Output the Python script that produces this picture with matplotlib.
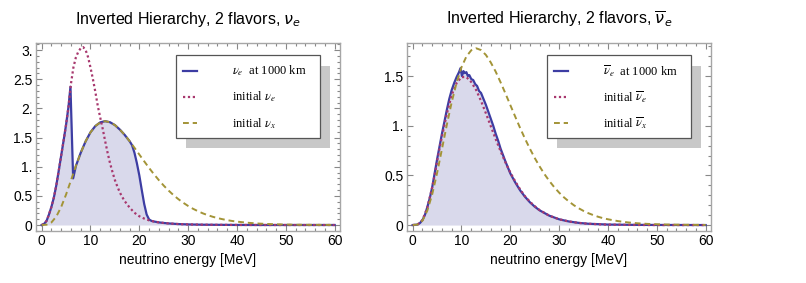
import matplotlib
matplotlib.use("Agg")
import matplotlib.pyplot as plt
from matplotlib.patches import Rectangle
from matplotlib.lines import Line2D
from matplotlib.ticker import MultipleLocator, FuncFormatter

plt.rcParams['font.family'] = ['Liberation Sans', 'DejaVu Sans']

# --- DATA ---
# initial nu_x / anti-nu_x spectrum (same in both panels)
energy_x = [0, 1, 2, 3, 4, 5, 6, 7, 8, 9, 10, 11, 12, 13, 14, 15, 16, 17, 18, 19,
            20, 21, 22, 23, 24, 25, 26, 27, 28, 29, 30, 31, 32, 33, 34, 35, 36, 37, 38, 39,
            40, 42, 44, 46, 48, 50, 52, 55, 60]
nux_initial = [0, 0.005, 0.044, 0.145, 0.309, 0.523, 0.765, 1.010, 1.238, 1.434,
               1.589, 1.697, 1.760, 1.780, 1.762, 1.713, 1.637, 1.545, 1.438, 1.325,
               1.208, 1.092, 0.978, 0.870, 0.769, 0.675, 0.590, 0.512, 0.443, 0.381,
               0.326, 0.278, 0.237, 0.200, 0.169, 0.142, 0.119, 0.100, 0.083, 0.069,
               0.058, 0.040, 0.027, 0.018, 0.012, 0.008, 0.005, 0.003, 0.001]

# left panel: initial nu_e
energy_nue = [0, 0.5, 1, 1.5, 2, 2.5, 3, 3.5, 4, 4.5, 5, 5.5, 6, 6.5, 7, 7.5, 8, 8.5, 9, 9.5,
              10, 10.5, 11, 11.5, 12, 12.5, 13, 13.5, 14, 14.5, 15, 15.5, 16, 16.5, 17,
              18, 19, 20, 21, 22, 23, 24, 25, 26, 28, 30, 33, 36, 40, 45, 50, 55, 60]
nue_initial = [0, 0.02, 0.07, 0.18, 0.31, 0.47, 0.68, 0.93, 1.19, 1.45, 1.72, 2.03, 2.42,
               2.70, 2.87, 2.97, 3.03, 3.05, 3.00, 2.88, 2.70, 2.50, 2.28, 2.04, 1.84,
               1.65, 1.44, 1.24, 1.06, 0.91, 0.77, 0.66, 0.56, 0.48, 0.41, 0.30, 0.21,
               0.15, 0.11, 0.08, 0.06, 0.045, 0.035, 0.027, 0.016, 0.010, 0.005, 0.003,
               0.001, 0, 0, 0, 0]

# left panel: nu_e at 1000 km
energy_nue_final = [0, 0.5, 1, 1.5, 2, 2.5, 3, 3.5, 4, 4.5, 5, 5.5, 5.9, 6.45, 6.9, 7, 8, 9,
                    10, 11, 12, 13, 14, 15, 16, 17, 18, 18.5, 19, 19.5, 20, 20.5, 21,
                    21.5, 22, 22.5, 23, 24, 25, 26, 28, 30, 33, 36, 40, 45, 50, 55, 60]
nue_final = [0, 0.02, 0.07, 0.18, 0.31, 0.47, 0.68, 0.93, 1.19, 1.45, 1.72, 2.03, 2.37,
             0.80, 0.97, 1.01, 1.238, 1.434, 1.589, 1.697, 1.760, 1.780, 1.762, 1.713,
             1.637, 1.545, 1.438, 1.37, 1.24, 1.06, 0.85, 0.60, 0.36, 0.18, 0.095, 0.07,
             0.06, 0.045, 0.035, 0.027, 0.016, 0.010, 0.005, 0.003, 0.001, 0, 0, 0, 0]

# right panel: initial anti-nu_e
energy_anue = [0, 1, 2, 3, 4, 4.5, 5, 5.5, 6, 7, 8, 9, 10, 11, 12, 13, 14, 15, 16, 17, 18,
               19, 20, 21, 22, 23, 24, 25, 26, 28, 30, 32, 34, 36, 40, 45, 50, 60]
anue_initial = [0, 0.005, 0.05, 0.175, 0.38, 0.50, 0.64, 0.77, 0.89, 1.12, 1.31, 1.43,
                1.49, 1.49, 1.44, 1.36, 1.25, 1.125, 0.995, 0.866, 0.744, 0.631, 0.529,
                0.44, 0.36, 0.29, 0.235, 0.19, 0.15, 0.094, 0.058, 0.036, 0.021, 0.013,
                0.004, 0.001, 0, 0]

# right panel: anti-nu_e at 1000 km
energy_anue_final = [0, 1, 1.5, 2, 2.5, 3, 3.5, 4, 4.5, 5, 5.5, 6, 6.5, 7, 7.5, 8, 8.5, 9,
                     9.5, 9.8, 10.1, 10.4, 10.7, 11.0, 11.3, 11.6, 12.0, 12.4, 12.8, 13.2,
                     13.6, 14.0, 14.5, 15.0, 15.5, 16.0, 16.5, 17.0, 17.5, 18, 19, 20, 21,
                     22, 23, 24, 25, 26, 28, 30, 32, 34, 36, 40, 45, 50, 60]
anue_final = [0, 0.005, 0.02, 0.05, 0.10, 0.18, 0.27, 0.38, 0.52, 0.66, 0.79, 0.92, 1.04,
              1.16, 1.27, 1.36, 1.43, 1.49, 1.54, 1.58, 1.50, 1.55, 1.53, 1.54, 1.50, 1.51,
              1.47, 1.46, 1.42, 1.40, 1.35, 1.33, 1.27, 1.21, 1.14, 1.07, 1.00, 0.92, 0.85,
              0.77, 0.64, 0.52, 0.43, 0.35, 0.285, 0.23, 0.185, 0.148, 0.094, 0.058, 0.036,
              0.022, 0.013, 0.005, 0.002, 0.001, 0]

titles = [r"Inverted Hierarchy, 2 flavors, $\nu_e$",
          r"Inverted Hierarchy, 2 flavors, $\overline{\nu}_e$"]
legend_left = [r"$\nu_e$  at 1000 km", r"initial $\nu_e$", r"initial $\nu_x$"]
legend_right = [r"$\overline{\nu}_e$  at 1000 km", r"initial $\overline{\nu}_e$",
                r"initial $\overline{\nu}_x$"]

# --- STYLE ---
C_FINAL = '#3d3da3'
C_INIT = '#a8386e'
C_X = '#a39437'
C_FILL = '#d9d9eb'
C_FRAME = '#a6a6a6'


def mma_fmt(v, pos):
    # Mathematica style tick labels: 0, 0.5, 1., 1.5 ...
    if abs(v) < 1e-9:
        return "0"
    if abs(v - round(v)) < 1e-9:
        return f"{int(round(v))}."
    return f"{v:g}"


def draw_legend(ax, labels):
    shadow = Rectangle((0.4934, 0.4415), 0.4736, 0.4365, transform=ax.transAxes,
                       facecolor='#c8c8c8', edgecolor='none', zorder=5)
    box = Rectangle((0.4605, 0.4947), 0.4735, 0.4413, transform=ax.transAxes,
                    facecolor='white', edgecolor='#555555', linewidth=0.9, zorder=6)
    ax.add_patch(shadow)
    ax.add_patch(box)
    styles = [dict(color=C_FINAL, lw=1.6, ls='-'),
              dict(color=C_INIT, lw=1.6, ls=(0, (1, 1.2))),
              dict(color=C_X, lw=1.4, ls=(0, (3, 2)))]
    for lab, st, y in zip(labels, styles, [0.851, 0.713, 0.574]):
        ax.add_line(Line2D([0.4836, 0.5296], [y, y], transform=ax.transAxes, zorder=7, **st))
        ax.text(0.6447, y, lab, transform=ax.transAxes, va='center', ha='left',
                fontsize=9, family=['Liberation Serif', 'DejaVu Serif'],
                math_fontfamily='stix', zorder=7)


def setup_axes(ax, title, ymax, ymin):
    ax.set_xlim(-1.15, 61.1)
    ax.set_ylim(ymin, ymax)
    ax.xaxis.set_major_locator(MultipleLocator(10))
    ax.xaxis.set_minor_locator(MultipleLocator(2))
    ax.yaxis.set_major_locator(MultipleLocator(0.5))
    ax.yaxis.set_minor_locator(MultipleLocator(0.1))
    ax.yaxis.set_major_formatter(FuncFormatter(mma_fmt))
    ax.tick_params(which='both', direction='in', top=True, right=True,
                   color='#888888', labelsize=10, width=0.8)
    ax.tick_params(which='major', length=4.5, pad=2.5)
    ax.tick_params(which='minor', length=2.5)
    for sp in ax.spines.values():
        sp.set_color(C_FRAME)
        sp.set_linewidth(1.0)
    ax.set_xlabel("neutrino energy [MeV]", fontsize=10, labelpad=3)
    ax.set_title(title, fontsize=11.5, pad=14)


fig = plt.figure(figsize=(8.06, 2.83), dpi=100)
ax1 = fig.add_axes([0.0447, 0.1837, 0.3772, 0.6643])
ax2 = fig.add_axes([0.5050, 0.1837, 0.3772, 0.6643])

# left: neutrinos
ax1.fill_between(energy_nue_final, nue_final, 0, color=C_FILL, lw=0, zorder=1)
ax1.plot(energy_nue_final, nue_final, color=C_FINAL, lw=1.6, zorder=2)
ax1.plot(energy_nue, nue_initial, color=C_INIT, lw=1.6, ls=(0, (1, 1.2)), zorder=3)
ax1.plot(energy_x, nux_initial, color=C_X, lw=1.4, ls=(0, (3, 2)), zorder=4)
setup_axes(ax1, titles[0], 3.12, -0.103)
draw_legend(ax1, legend_left)

# right: anti-neutrinos
ax2.fill_between(energy_anue_final, anue_final, 0, color=C_FILL, lw=0, zorder=1)
ax2.plot(energy_anue_final, anue_final, color=C_FINAL, lw=1.6, zorder=2)
ax2.plot(energy_anue, anue_initial, color=C_INIT, lw=1.6, ls=(0, (1, 1.2)), zorder=3)
ax2.plot(energy_x, nux_initial, color=C_X, lw=1.4, ls=(0, (3, 2)), zorder=4)
setup_axes(ax2, titles[1], 1.833, -0.06)
draw_legend(ax2, legend_right)

fig.savefig("out.png", dpi=100)
